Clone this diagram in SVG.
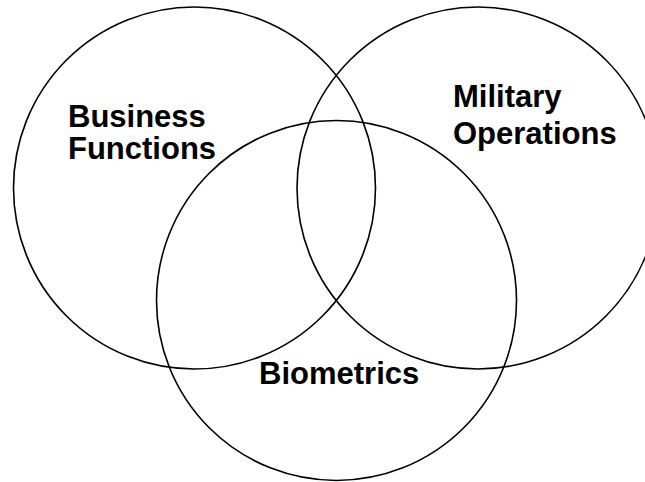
<svg xmlns="http://www.w3.org/2000/svg" width="645" height="482" viewBox="0 0 645 482">
<style>
.c{fill:none;stroke:#000;stroke-width:1.6}
.t{font-family:"Liberation Sans",Arial,sans-serif;font-weight:bold;font-size:31px;fill:#000}
</style>
<rect width="645" height="482" fill="#fff"/>
<g id="business">
<circle class="c" cx="194.5" cy="188" r="181"/>
<text class="t" x="68" y="127">Business</text>
<text class="t" x="68" y="159">Functions</text>
</g>
<g id="military">
<circle class="c" cx="478" cy="188" r="181"/>
<text class="t" x="453" y="107">Military</text>
<text class="t" x="453" y="144">Operations</text>
</g>
<g id="biometrics">
<circle class="c" cx="336.5" cy="300.5" r="180"/>
<text class="t" x="259" y="384">Biometrics</text>
</g>
<g id="connectors"/>
</svg>
